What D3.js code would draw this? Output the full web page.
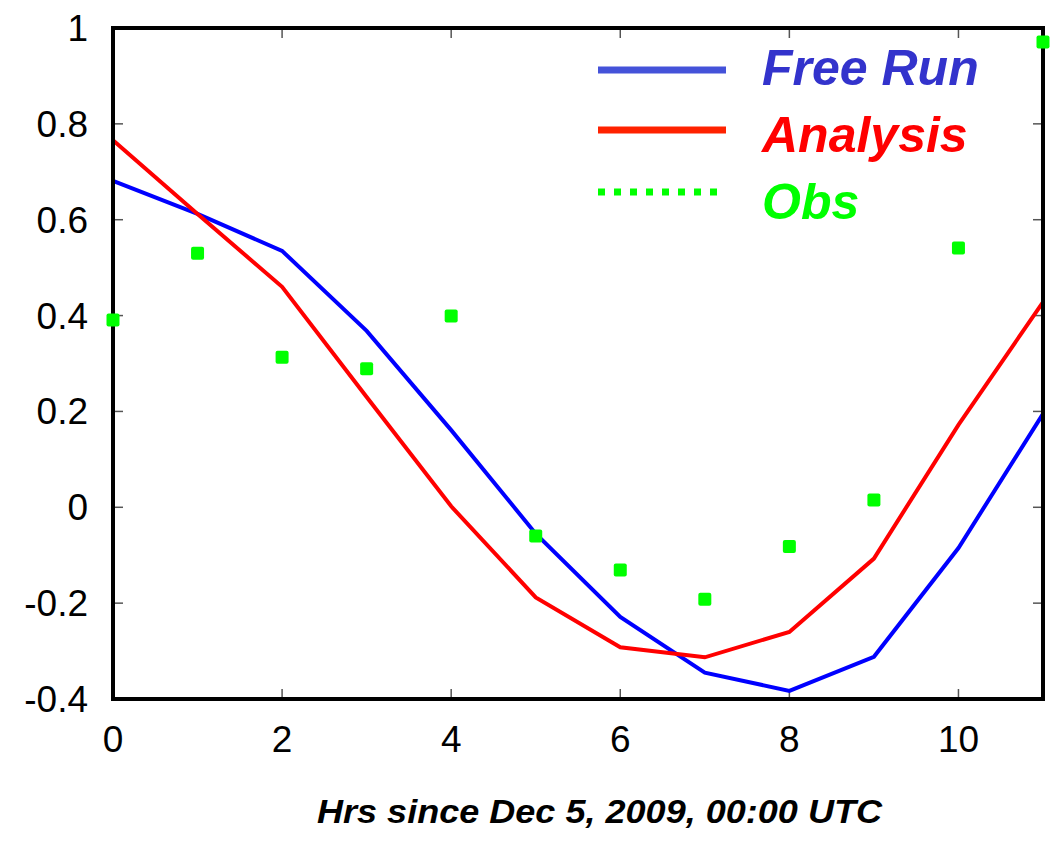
<!DOCTYPE html>
<html>
<head>
<meta charset="utf-8">
<script src="https://cdn.jsdelivr.net/npm/d3@7"></script>
<style>
  body { margin: 0; background: #fff; }
  text { font-family: "Liberation Sans", Arial, Helvetica, sans-serif; }
</style>
</head>
<body>
<script>
// chart values
var hours = [0, 1, 2, 3, 4, 5, 6, 7, 8, 9, 10, 11];
var freeRun = [0.681, 0.612, 0.535, 0.368, 0.161, -0.055, -0.229, -0.345, -0.383, -0.312, -0.085, 0.195];
var analysis = [0.766, 0.612, 0.460, 0.230, 0.002, -0.188, -0.292, -0.313, -0.260, -0.107, 0.172, 0.428];
var obs = [0.391, 0.530, 0.313, 0.289, 0.399, -0.060, -0.131, -0.192, -0.082, 0.015, 0.541, 0.971];
var xTicks = [0, 2, 4, 6, 8, 10];
var yTicks = [-0.4, -0.2, 0, 0.2, 0.4, 0.6, 0.8, 1];
var legendNames = ["Free Run", "Analysis", "Obs"];

var w = 1056, h = 842;
//plot box edges (don't call it "top", that's window.top)
var pLeft = 113, pRight = 1043, pTop = 28, pBottom = 699;

var svg = d3.select("body").append("svg")
    .attr("width", w)
    .attr("height", h);

var x = d3.scaleLinear().domain([0, 11]).range([pLeft, pRight]);
var y = d3.scaleLinear().domain([-0.4, 1]).range([pBottom, pTop]);

// inward ticks on all four sides
var tickG = svg.append("g").attr("stroke", "#555").attr("stroke-width", 1.5);
xTicks.forEach(function(t){
    tickG.append("line").attr("x1", x(t)).attr("x2", x(t)).attr("y1", pBottom).attr("y2", pBottom - 10);
    tickG.append("line").attr("x1", x(t)).attr("x2", x(t)).attr("y1", pTop).attr("y2", pTop + 10);
});
yTicks.forEach(function(t){
    tickG.append("line").attr("x1", pLeft).attr("x2", pLeft + 10).attr("y1", y(t)).attr("y2", y(t));
    tickG.append("line").attr("x1", pRight).attr("x2", pRight - 10).attr("y1", y(t)).attr("y2", y(t));
});

// tick labels
svg.selectAll(".xlab").data(xTicks).enter().append("text")
    .attr("class", "xlab")
    .attr("x", function(d){ return x(d); })
    .attr("y", 752)
    .attr("text-anchor", "middle")
    .style("font-size", "37px")
    .text(function(d){ return d; });

svg.selectAll(".ylab").data(yTicks).enter().append("text")
    .attr("class", "ylab")
    .attr("x", 88)
    .attr("y", function(d){ return y(d) + 13; })
    .attr("text-anchor", "end")
    .style("font-size", "37px")
    .text(function(d){ return d; });

// series lines
var line = d3.line()
    .x(function(d, i){ return x(hours[i]); })
    .y(function(d){ return y(d); });

svg.append("path").datum(freeRun)
    .attr("d", line)
    .attr("fill", "none")
    .attr("stroke", "#0000ff")
    .attr("stroke-width", 4);

svg.append("path").datum(analysis)
    .attr("d", line)
    .attr("fill", "none")
    .attr("stroke", "#ff0000")
    .attr("stroke-width", 4);

// frame
svg.append("rect")
    .attr("x", pLeft).attr("y", pTop)
    .attr("width", pRight - pLeft).attr("height", pBottom - pTop)
    .attr("fill", "none")
    .attr("stroke", "#000")
    .attr("stroke-width", 4);

// obs squares
svg.selectAll(".obs").data(obs).enter().append("rect")
    .attr("class", "obs")
    .attr("x", function(d, i){ return x(hours[i]) - 6.5; })
    .attr("y", function(d){ return y(d) - 6.5; })
    .attr("width", 13).attr("height", 13)
    .attr("rx", 2)
    .attr("fill", "#00ff00");

// legend
var legColors = ["#4452d9", "#ff2200", "#00ff00"];
var legText = ["#3333cc", "#ff0000", "#00ff00"];
var legY = [70, 130, 192];
var legBase = [85, 152, 219];
legendNames.forEach(function(name, i){
    var ln = svg.append("line")
        .attr("x1", 598).attr("x2", 726)
        .attr("y1", legY[i]).attr("y2", legY[i])
        .attr("stroke", legColors[i])
        .attr("stroke-width", 7);
    if (i == 2) ln.attr("stroke-dasharray", "7,9");
    svg.append("text")
        .attr("x", 762)
        .attr("y", legBase[i])
        .style("font-size", "50px")
        .style("font-weight", "bold")
        .style("font-style", "italic")
        .attr("fill", legText[i])
        .text(name);
});

// axis title
svg.append("text")
    .attr("x", 317)
    .attr("y", 823)
    .attr("textLength", 565)
    .attr("lengthAdjust", "spacingAndGlyphs")
    .style("font-size", "33px")
    .style("font-weight", "bold")
    .style("font-style", "italic")
    .text("Hrs since Dec 5, 2009, 00:00 UTC");
</script>
</body>
</html>
